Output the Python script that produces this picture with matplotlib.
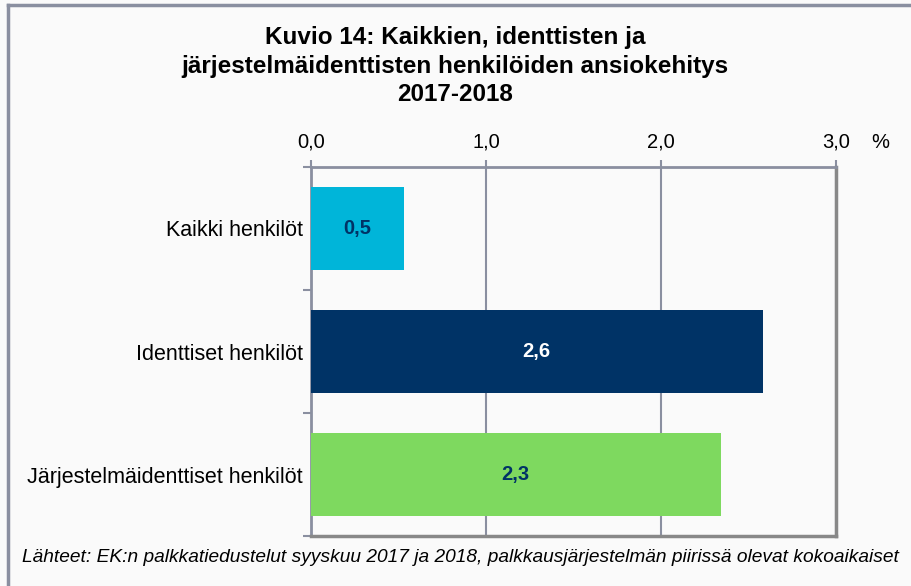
import matplotlib
matplotlib.use("Agg")
import matplotlib.pyplot as plt
from matplotlib.lines import Line2D

categories = ["Kaikki henkilöt", "Identtiset henkilöt", "Järjestelmäidenttiset henkilöt"]
values = [0.53, 2.58, 2.34]
value_labels = ["0,5", "2,6", "2,3"]
bar_colors = ["#00b5d9", "#003366", "#7ed95f"]
label_colors = ["#003366", "#ffffff", "#003366"]
x_ticks = [0.0, 1.0, 2.0, 3.0]
x_tick_labels = ["0,0", "1,0", "2,0", "3,0"]
title = "Kuvio 14: Kaikkien, identtisten ja\njärjestelmäidenttisten henkilöiden ansiokehitys\n2017-2018"
footer = "Lähteet: EK:n palkkatiedustelut syyskuu 2017 ja 2018, palkkausjärjestelmän piirissä olevat kokoaikaiset"

plt.rcParams['font.family'] = ['Liberation Sans', 'DejaVu Sans']
bg = "#fafafa"
gray = "#8a8fa0"

fig = plt.figure(figsize=(9.12, 5.86), dpi=100, facecolor=bg)
ax = fig.add_axes([311/912, 1-536/586, 525/912, 369/586], facecolor=bg)

ypos = list(range(len(categories)))
ax.barh(ypos, values, height=0.67, color=bar_colors, zorder=3)
for y, v, lab, c in zip(ypos, values, value_labels, label_colors):
    ax.text(v/2, y, lab, ha="center", va="center", color=c, fontsize=14.5, fontweight="bold", zorder=4)

ax.set_xlim(0, 3.0)
ax.set_ylim(len(categories)-0.5, -0.5)
ax.xaxis.tick_top()
ax.set_xticks(x_ticks)
ax.set_xticklabels(x_tick_labels, fontsize=14.5)
ax.tick_params(axis="x", direction="out", length=5, width=1.5, color=gray, pad=6)
ax.grid(axis="x", color=gray, linewidth=1.5, zorder=0)

ax.set_yticks(ypos)
ax.set_yticklabels(categories, fontsize=15.5)
ax.tick_params(axis="y", length=0, pad=6)
ax.set_yticks([-0.5, 0.5, 1.5, 2.5], minor=True)
ax.tick_params(axis="y", which="minor", direction="out", length=6, width=1.5, color=gray)

for s in ["top", "left"]:
    ax.spines[s].set_color(gray)
    ax.spines[s].set_linewidth(2)
for s in ["right", "bottom"]:
    ax.spines[s].set_color("#888888")
    ax.spines[s].set_linewidth(2.5)

fig.text(880/912, 1-142/586, "%", fontsize=14.5, ha="center", va="center")
fig.text(455/912, 1-66/586, title, fontsize=17.5, fontweight="bold", ha="center", va="center", linespacing=1.3)
fig.text(22/912, 1-558/586, footer, fontsize=13.8, style="italic", ha="left", va="center")

fig.add_artist(Line2D([8.5/912, 8.5/912], [0, 1-4.5/586], color=gray, linewidth=2.5, transform=fig.transFigure))
fig.add_artist(Line2D([8.5/912, 1], [1-4.5/586, 1-4.5/586], color=gray, linewidth=2.5, transform=fig.transFigure))

fig.savefig("out.png", dpi=100, facecolor=bg)
